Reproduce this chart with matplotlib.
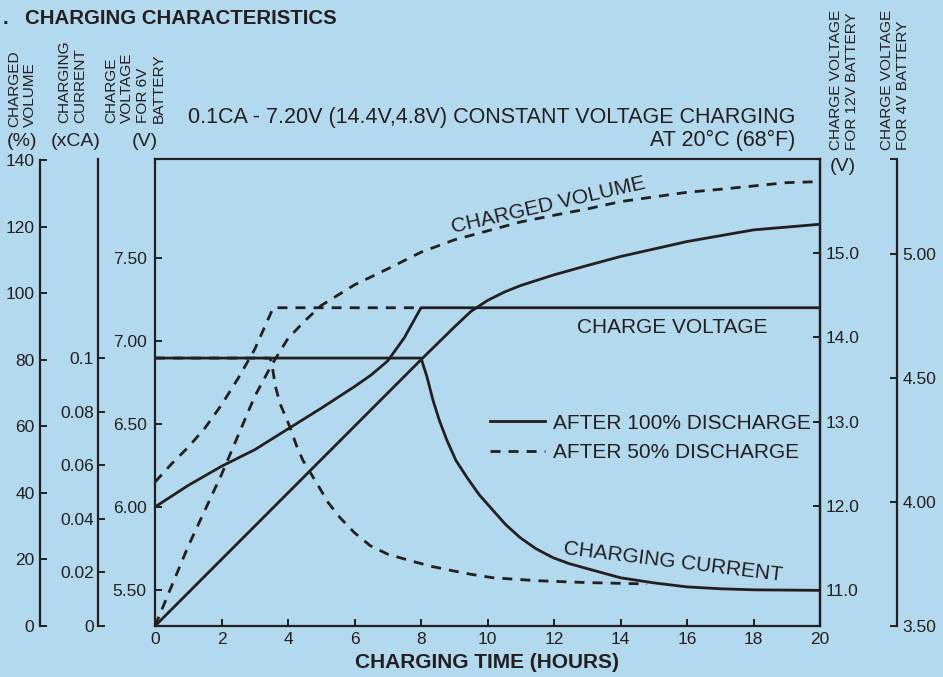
import matplotlib
matplotlib.use("Agg")
import matplotlib.pyplot as plt
from matplotlib import font_manager as fm
from matplotlib.ticker import FixedLocator, FixedFormatter

# ---------------- data ----------------
# charge voltage, 6V battery scale (V)
hours_v100 = [0, 1, 2, 3, 4, 5, 6, 6.5, 7, 7.5, 8, 20]
volt_v100 = [6.00, 6.13, 6.245, 6.345, 6.47, 6.595, 6.725, 6.795, 6.88, 7.02, 7.20, 7.20]
hours_v50 = [0, 0.5, 1, 1.5, 2, 2.5, 3, 3.5, 3.55, 7.8]
volt_v50 = [6.15, 6.26, 6.36, 6.475, 6.615, 6.775, 6.95, 7.175, 7.20, 7.20]

# charging current (xCA)
hours_i100 = [0, 8, 8.18, 8.36, 8.55, 8.78, 9.05, 9.38, 9.75, 10.17, 10.55, 10.98, 11.45,
              11.97, 12.45, 13, 14, 15, 16, 17, 18, 20]
curr_i100 = [0.1, 0.1, 0.093, 0.0843, 0.0768, 0.0693, 0.0618, 0.0555, 0.049, 0.0431, 0.0378,
             0.033, 0.0289, 0.0255, 0.0233, 0.0214, 0.018, 0.0161, 0.0146, 0.0139, 0.0135, 0.0133]
hours_i50 = [0, 3.46, 3.52, 3.62, 3.76, 4.06, 4.25, 4.45, 4.87, 5.2, 5.56, 6.0, 6.47, 7.0,
             7.67, 8.3, 8.96, 9.5, 10.17, 11.5, 13, 14.8]
curr_i50 = [0.1, 0.1, 0.0974, 0.0895, 0.083, 0.0742, 0.0675, 0.0618, 0.0532, 0.0462, 0.0405,
            0.0348, 0.030, 0.0268, 0.0244, 0.0223, 0.0206, 0.0193, 0.018, 0.0169, 0.0162, 0.0157]

# charged volume (%)
hours_q100 = [0, 8, 9, 9.5, 10, 10.5, 11, 12, 13, 14, 16, 18, 20]
vol_q100 = [0, 80, 89.8, 94.5, 97.8, 100.3, 102.3, 105.5, 108.3, 111, 115.5, 119, 120.7]
hours_q50 = [0, 1, 2, 3, 3.5, 4, 4.5, 5, 6, 7, 8, 9, 10, 11, 12, 13, 14, 15, 16, 17, 18, 19, 20]
vol_q50 = [0, 24, 45.5, 69, 78.3, 86.4, 91.6, 96.3, 102.5, 107.3, 112.3, 116, 118.7, 121.4,
           123.4, 125.3, 127.5, 128.9, 130.3, 131.2, 132.2, 133.2, 133.5]

# tick labels
x_ticks = [0, 2, 4, 6, 8, 10, 12, 14, 16, 18, 20]
v6_ticks = [5.50, 6.00, 6.50, 7.00, 7.50]
v12_ticks = [11.0, 12.0, 13.0, 14.0, 15.0]
v4_ticks = [3.50, 4.00, 4.50, 5.00]
vol_ticks = [0, 20, 40, 60, 80, 100, 120, 140]
cur_ticks = [0, 0.02, 0.04, 0.06, 0.08, 0.1]
cur_labels = ["0", "0.02", "0.04", "0.06", "0.08", "0.1"]

# ---------------- style ----------------
W, H = 943, 677
BG = "#b3d9ef"
INK = "#231f20"
plt.rcParams["font.family"] = ["Liberation Sans", "DejaVu Sans"]


def has_font(name):
    try:
        fm.findfont(fm.FontProperties(family=name), fallback_to_default=False)
        return True
    except Exception:
        return False


NARROW = "Liberation Sans Narrow" if has_font("Liberation Sans Narrow") else "Liberation Sans"
TICK_SIZE = 14 if NARROW != "Liberation Sans" else 12.5

fig = plt.figure(figsize=(W / 100, H / 100), dpi=100)
fig.patch.set_facecolor(BG)

L, R, T, B = 155, 820, 159, 626
ax = fig.add_axes([L / W, 1 - B / H, (R - L) / W, (B - T) / H])
ax.set_facecolor(BG)
ax.set_xlim(0, 20)
ax.set_ylim(5.283, 8.096)

LW = 2.0
DASH = (0, (3.6, 2.9))
SPW = 1.6


def style_ticks(a, axis, ticks, labels, pad, length=5):
    if axis == "x":
        a.xaxis.set_major_locator(FixedLocator(ticks))
        a.xaxis.set_major_formatter(FixedFormatter(labels))
        a.tick_params(axis="x", direction="in", length=length, width=1.4,
                      pad=pad, labelsize=TICK_SIZE, colors=INK)
        for lab in a.get_xticklabels():
            lab.set_fontfamily(NARROW)
    else:
        a.yaxis.set_major_locator(FixedLocator(ticks))
        a.yaxis.set_major_formatter(FixedFormatter(labels))
        a.tick_params(axis="y", direction="in", length=length, width=1.4,
                      pad=pad, labelsize=TICK_SIZE, colors=INK)
        for lab in a.get_yticklabels():
            lab.set_fontfamily(NARROW)


for s in ax.spines.values():
    s.set_linewidth(SPW)
    s.set_color(INK)
style_ticks(ax, "x", x_ticks, [str(v) for v in x_ticks], pad=4)
style_ticks(ax, "y", v6_ticks, ["%.2f" % v for v in v6_ticks], pad=6)

# 12V axis (right spine of plot box)
ax12 = ax.twinx()
ax12.set_ylim(10.573, 16.116)
for k, s in ax12.spines.items():
    s.set_visible(k == "right")
    s.set_linewidth(SPW)
    s.set_color(INK)
style_ticks(ax12, "y", v12_ticks, ["%.1f" % v for v in v12_ticks], pad=4)
ax12.patch.set_visible(False)

# 4V axis
ax4 = ax.twinx()
ax4.set_ylim(3.5, 5.383)
ax4.spines["right"].set_position(("axes", (897 - L) / (R - L)))
for k, s in ax4.spines.items():
    s.set_visible(k == "right")
    s.set_linewidth(SPW)
    s.set_color(INK)
style_ticks(ax4, "y", v4_ticks, ["%.2f" % v for v in v4_ticks], pad=4)
ax4.yaxis.set_minor_locator(FixedLocator([ax4.get_ylim()[1]]))
ax4.tick_params(axis="y", which="minor", direction="in", length=5, width=1.4, colors=INK)
ax4.patch.set_visible(False)

# charged volume axis (far left)
axq = ax.twinx()
axq.set_ylim(0, 140.3)
axq.yaxis.set_ticks_position("left")
axq.spines["left"].set_position(("axes", (40 - L) / (R - L)))
for k, s in axq.spines.items():
    s.set_visible(k == "left")
    s.set_linewidth(SPW)
    s.set_color(INK)
axq.spines["left"].set_bounds(0, 140)
style_ticks(axq, "y", vol_ticks, [str(v) for v in vol_ticks], pad=4)
axq.patch.set_visible(False)

# charging current axis
axc = ax.twinx()
axc.set_ylim(0, 0.1743)
axc.yaxis.set_ticks_position("left")
axc.spines["left"].set_position(("axes", (98 - L) / (R - L)))
for k, s in axc.spines.items():
    s.set_visible(k == "left")
    s.set_linewidth(SPW)
    s.set_color(INK)
style_ticks(axc, "y", cur_ticks, cur_labels, pad=3)
axc.patch.set_visible(False)

# ---------------- curves ----------------
l100, = ax.plot(hours_v100, volt_v100, color=INK, lw=LW, solid_joinstyle="round")
l50, = ax.plot(hours_v50, volt_v50, color=INK, lw=LW, linestyle=DASH)
axc.plot(hours_i100, curr_i100, color=INK, lw=LW, solid_joinstyle="round")
axc.plot(hours_i50, curr_i50, color=INK, lw=LW, linestyle=DASH)
axq.plot(hours_q100, vol_q100, color=INK, lw=LW, solid_joinstyle="round")
axq.plot(hours_q50, vol_q50, color=INK, lw=LW, linestyle=DASH)

# in-plot labels
ax.text(11.82, 7.819, "CHARGED VOLUME", rotation=13, ha="center", va="center",
        fontsize=15, color=INK)
ax.text(15.55, 7.084, "CHARGE VOLTAGE", ha="center", va="center", fontsize=15, color=INK)
ax.text(15.58, 5.669, "CHARGING CURRENT", rotation=-7, ha="center", va="center",
        fontsize=15, color=INK)

leg = axq.legend([l100, l50], ["AFTER 100% DISCHARGE", "AFTER 50% DISCHARGE"],
                 loc="upper left", bbox_to_anchor=((490 - L) / (R - L), (B - 413.6) / (B - T)),
                 frameon=False, fontsize=15, handlelength=2.64, handletextpad=0.38,
                 labelspacing=0.49, borderpad=0, borderaxespad=0)
for t in leg.get_texts():
    t.set_color(INK)


# ---------------- figure texts ----------------
def ftxt(x, y, s, **kw):
    kw.setdefault("color", INK)
    fig.text(x / W, 1 - y / H, s, **kw)


ftxt(5, 18, ".", fontsize=14.5, fontweight="bold", ha="center", va="center")
ftxt(25, 18, "CHARGING CHARACTERISTICS", fontsize=14.7, fontweight="bold",
     ha="left", va="center")
VL = dict(rotation=90, fontsize=11.1, ha="center", va="bottom", linespacing=1.18,
          multialignment="left")
ftxt(22, 127, "CHARGED\nVOLUME", **VL)
ftxt(72, 123, "CHARGING\nCURRENT", **VL)
ftxt(135, 123, "CHARGE\nVOLTAGE\nFOR 6V\nBATTERY", **VL)
ftxt(22, 141, "(%)", fontsize=14, ha="center", va="center")
ftxt(76, 141, "(xCA)", fontsize=14, ha="center", va="center")
ftxt(145, 141, "(V)", fontsize=14, ha="center", va="center")
ftxt(188, 117, "0.1CA - 7.20V (14.4V,4.8V) CONSTANT VOLTAGE CHARGING", fontsize=15.5,
     ha="left", va="center")
ftxt(795, 140, "AT 20°C (68°F)", fontsize=15.5, ha="right", va="center")
ftxt(844, 150, "CHARGE VOLTAGE\nFOR 12V BATTERY", **VL)
ftxt(843, 167, "(V)", fontsize=14, ha="center", va="center")
ftxt(895, 150, "CHARGE VOLTAGE\nFOR 4V BATTERY", **VL)
ftxt(487, 663, "CHARGING TIME (HOURS)", fontsize=15, fontweight="bold",
     ha="center", va="center")

fig.savefig("out.png", dpi=100, facecolor=BG)
